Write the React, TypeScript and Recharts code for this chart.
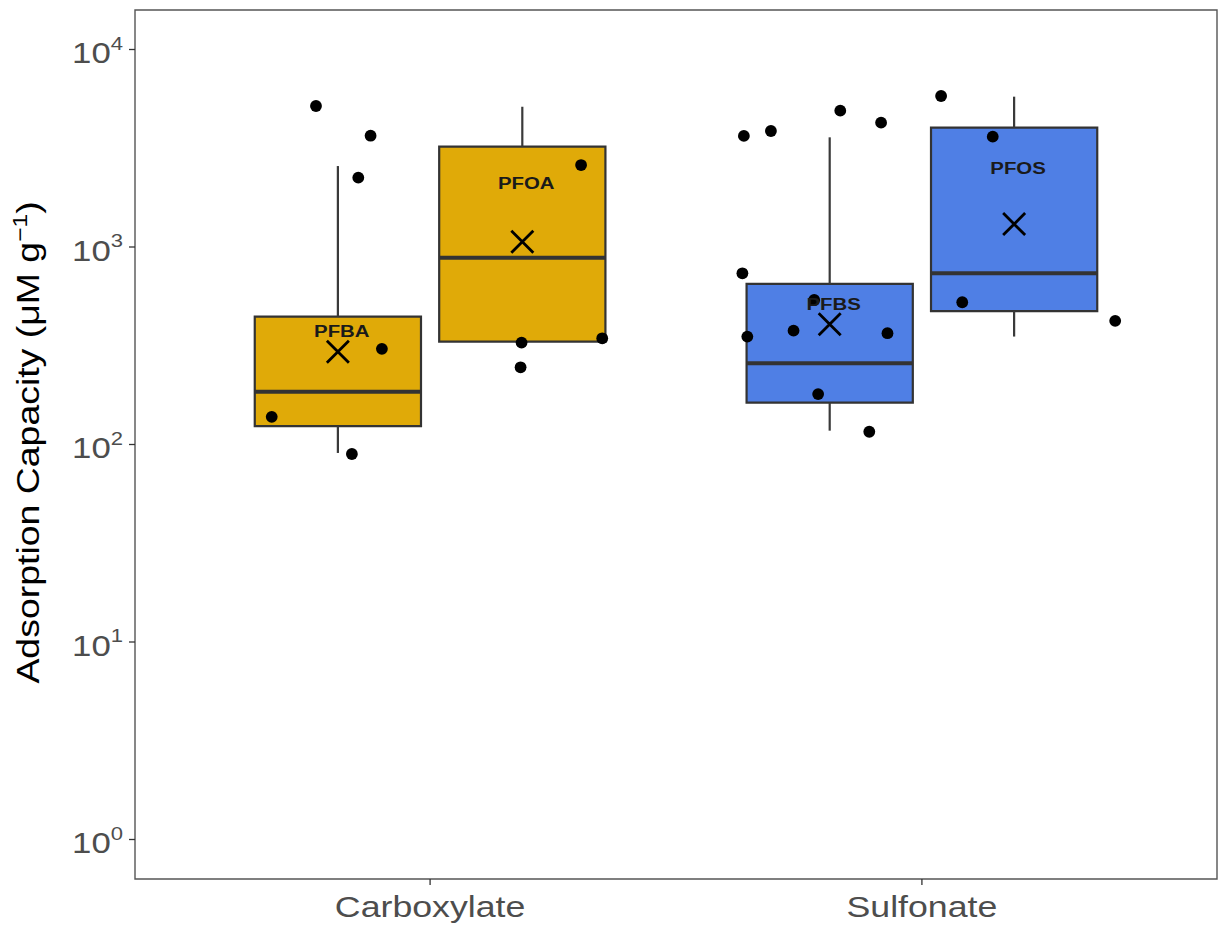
import { ComposedChart, XAxis, YAxis, Scatter, ReferenceArea, ReferenceLine } from 'recharts'

const categories = ['Carboxylate', 'Sulfonate']
const compounds = ['PFBA', 'PFOA', 'PFBS', 'PFOS']
const compoundGroup = [0, 0, 1, 1]
const compoundSide = [-1, 1, -1, 1]

// box statistics (µM/g)
const lowerWhisker = [90.6, 332, 117.5, 352]
const q1 = [124, 332, 163, 474]
const median = [185, 883, 258, 736]
const q3 = [444, 3220, 650, 4018]
const upperWhisker = [2570, 5130, 3592, 5770]
const means = [295, 1064, 406, 1307]
const labelY = [377, 2100, 515, 2503]

// jittered raw observations
const carboxylateValues = [5175, 3660, 2244, 305, 138, 89.5, 2600, 328, 345, 246]
const carboxylateJitter = [-0.232, -0.121, -0.146, -0.098, -0.322, -0.159, 0.307, 0.186, 0.35, 0.184]
const sulfonateValues = [3650, 3867, 4900, 4260, 5816, 3620, 736, 539, 352, 377, 366, 180, 116, 525, 423]
const sulfonateJitter = [-0.362, -0.307, -0.166, -0.083, 0.039, 0.144, -0.365, -0.219, -0.355, -0.261, -0.07, -0.211, -0.107, 0.082, 0.393]

const yTicks = [1, 10, 100, 1000, 10000]

const fills = ['#E0AA08', '#E0AA08', '#4F7FE5', '#4F7FE5']
const FONT = '"Liberation Sans", Arial, Helvetica, sans-serif'
const DODGE = 0.1875
const HALF = 0.169
const Y_MIN = Math.pow(10, -0.2)
const Y_MAX = Math.pow(10, 4.2)

const centers = compounds.map((_, i) => compoundGroup[i] + 1 + compoundSide[i] * DODGE)

const points = [
  ...carboxylateValues.map((v, i) => ({ x: 1 + carboxylateJitter[i], y: v })),
  ...sulfonateValues.map((v, i) => ({ x: 2 + sulfonateJitter[i], y: v }))
]
const meanData = compounds.map((name, i) => ({ x: centers[i], y: means[i], name }))
const labelData = compounds.map((name, i) => ({ x: centers[i] + 0.008, y: labelY[i], name }))

function YTick(props: any) {
  const { x, y, payload } = props
  const exp = Math.round(Math.log10(payload.value))
  return (
    <g transform={`translate(${x - 4},${y}) scale(1.16,1)`}>
      <text x={0} y={13.5} textAnchor="end" fontFamily={FONT} fontSize={30} fill="#4d4d4d">
        10
        <tspan dy={-13.5} fontSize={19}>{exp}</tspan>
      </text>
    </g>
  )
}

function XTick(props: any) {
  const { x, y, payload } = props
  return (
    <g transform={`translate(${x},${y + 30}) scale(1.19,1)`}>
      <text x={0} y={0} textAnchor="middle" fontFamily={FONT} fontSize={30} fill="#4d4d4d">
        {categories[payload.value - 1]}
      </text>
    </g>
  )
}

function YTitle(props: any) {
  const vb = props.viewBox || {}
  const cy = vb.height ? vb.y + vb.height / 2 : 444.5
  return (
    <text
      transform={`translate(38.5,${cy - 2}) rotate(-90) scale(1.17,1)`}
      textAnchor="middle"
      fontFamily={FONT}
      fontSize={32}
      fill="#000"
    >
      Adsorption Capacity (μM g
      <tspan dy={-12} fontSize={21}>−1</tspan>
      <tspan dy={12}>)</tspan>
    </text>
  )
}

function Dot(props: any) {
  const { cx, cy } = props
  return <circle cx={cx} cy={cy} r={5.9} fill="#000" />
}

function MeanCross(props: any) {
  const { cx, cy } = props
  const s = 11
  return (
    <path
      d={`M${cx - s},${cy - s}L${cx + s},${cy + s}M${cx - s},${cy + s}L${cx + s},${cy - s}`}
      stroke="#000"
      strokeWidth={2.8}
      fill="none"
    />
  )
}

function NameLabel(props: any) {
  const { cx, cy, payload } = props
  return (
    <g transform={`translate(${cx},${cy}) scale(1.2,1)`}>
      <text x={0} y={6} textAnchor="middle" fontFamily={FONT} fontWeight="bold" fontSize={17} fill="#1a1a1a">
        {payload.name}
      </text>
    </g>
  )
}

export default function App() {
  return (
    <div style={{ position: 'absolute', left: 0, top: 0, background: '#fff' }}>
      <ComposedChart width={1221} height={926} margin={{ top: 10, right: 4, left: 0, bottom: 0 }}>
        <XAxis
          type="number"
          dataKey="x"
          domain={[0.4, 2.6]}
          ticks={[1, 2]}
          allowDataOverflow
          height={47}
          axisLine={false}
          tickSize={6}
          tickLine={{ stroke: '#333', strokeWidth: 1.3 }}
          tick={<XTick />}
        />
        <YAxis
          type="number"
          dataKey="y"
          scale="log"
          domain={[Y_MIN, Y_MAX]}
          allowDataOverflow
          ticks={yTicks}
          width={135}
          axisLine={false}
          tickSize={6}
          tickLine={{ stroke: '#333', strokeWidth: 1.3 }}
          tick={<YTick />}
          label={{ content: (p: any) => <YTitle {...p} /> }}
        />
        {compounds.map((name, i) => (
          <ReferenceLine
            key={`wu-${name}`}
            segment={[{ x: centers[i], y: q3[i] }, { x: centers[i], y: upperWhisker[i] }]}
            stroke="#3a3a3a"
            strokeWidth={2.2}
          />
        ))}
        {compounds.map((name, i) => (
          <ReferenceLine
            key={`wl-${name}`}
            segment={[{ x: centers[i], y: lowerWhisker[i] }, { x: centers[i], y: q1[i] }]}
            stroke="#3a3a3a"
            strokeWidth={2.2}
          />
        ))}
        {compounds.map((name, i) => (
          <ReferenceArea
            key={`box-${name}`}
            x1={centers[i] - HALF}
            x2={centers[i] + HALF}
            y1={q1[i]}
            y2={q3[i]}
            fill={fills[i]}
            fillOpacity={1}
            stroke="#333"
            strokeWidth={2.2}
          />
        ))}
        {compounds.map((name, i) => (
          <ReferenceLine
            key={`med-${name}`}
            segment={[{ x: centers[i] - HALF, y: median[i] }, { x: centers[i] + HALF, y: median[i] }]}
            stroke="#333"
            strokeWidth={4}
          />
        ))}
        <Scatter data={points} shape={<Dot />} isAnimationActive={false} />
        <Scatter data={labelData} shape={<NameLabel />} isAnimationActive={false} />
        <Scatter data={meanData} shape={<MeanCross />} isAnimationActive={false} />
        <ReferenceArea
          x1={0.4}
          x2={2.6}
          y1={Y_MIN}
          y2={Y_MAX}
          ifOverflow="visible"
          fill="none"
          stroke="#555"
          strokeWidth={1.4}
        />
      </ComposedChart>
    </div>
  )
}
